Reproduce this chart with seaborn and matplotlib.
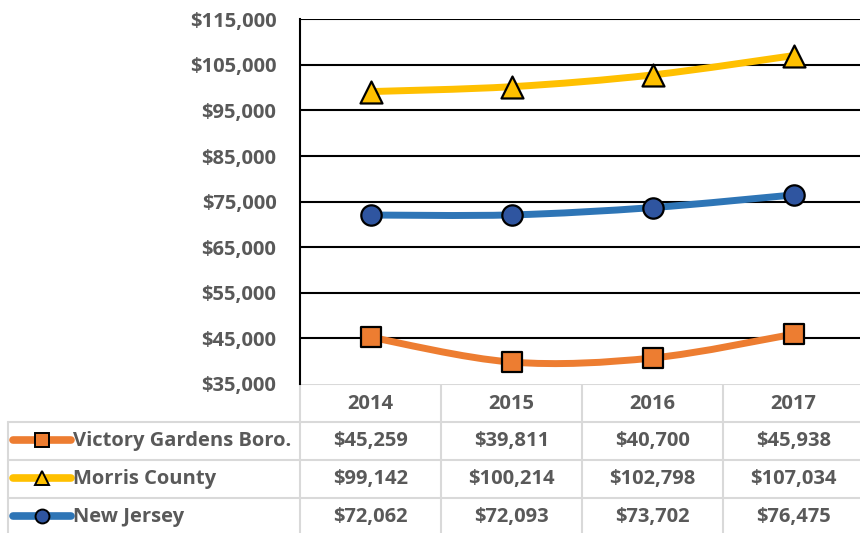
import numpy as np
import pandas as pd
import seaborn as sns
import matplotlib.pyplot as plt
from matplotlib.path import Path
from matplotlib.patches import PathPatch
from matplotlib.lines import Line2D
from matplotlib.ticker import FuncFormatter

years = ["2014", "2015", "2016", "2017"]
victory_gardens = [45259, 39811, 40700, 45938]
morris_county = [99142, 100214, 102798, 107034]
new_jersey = [72062, 72093, 73702, 76475]

series_names = ["Victory Gardens Boro.", "Morris County", "New Jersey"]
y_ticks = [35000, 45000, 55000, 65000, 75000, 85000, 95000, 105000, 115000]

# styling
line_colors = ["#ED7D31", "#FFC000", "#2E75B6"]
marker_fill = ["#ED7D31", "#FFC000", "#2F55A0"]
markers = ["s", "^", "o"]
marker_sizes = [205, 250, 215]
text_gray = "#595959"
grid_gray = "#D9D9D9"
fsize = 14.5
W, H = 860, 533

sns.set_theme(style="white")
plt.rcParams["font.family"] = ["Open Sans", "DejaVu Sans"]
plt.rcParams["font.weight"] = "bold"

rows = []
for name, vals in zip(series_names, [victory_gardens, morris_county, new_jersey]):
    for i, (yr, v) in enumerate(zip(years, vals)):
        rows.append({"series": name, "year": yr, "x": i, "value": v})
df = pd.DataFrame(rows)


def smooth_path(xs, ys):
    # excel-style smoothed line: bezier segments through every point
    pts = np.column_stack([xs, ys]).astype(float)
    ext = np.vstack([pts[0], pts, pts[-1]])
    verts = [tuple(pts[0])]
    codes = [Path.MOVETO]
    for i in range(len(pts) - 1):
        p0, p1, p2, p3 = ext[i], ext[i + 1], ext[i + 2], ext[i + 3]
        c1 = p1 + (p2 - p0) / 6.0
        c2 = p2 - (p3 - p1) / 6.0
        verts += [tuple(c1), tuple(c2), tuple(p2)]
        codes += [Path.CURVE4] * 3
    return Path(verts, codes)


fig = plt.figure(figsize=(W / 100, H / 100), dpi=100)
top_px, bot_px, left_px, right_px = 19.3, 384, 300, 864
ax = fig.add_axes([left_px / W, 1 - bot_px / H,
                   (right_px - left_px) / W, (bot_px - top_px) / H])

for k, name in enumerate(series_names):
    sub = df[df["series"] == name]
    ax.add_patch(PathPatch(smooth_path(sub["x"], sub["value"]), fill=False,
                           edgecolor=line_colors[k], lw=5,
                           capstyle="round", zorder=3))
    sns.scatterplot(data=sub, x="x", y="value", marker=markers[k],
                    s=marker_sizes[k], color=marker_fill[k],
                    edgecolor="black", linewidth=1.6, zorder=4, ax=ax,
                    legend=False)

ax.set_xlim(-0.5, 3.5)
ax.set_ylim(35000, 115000)
ax.set_yticks(y_ticks)
ax.yaxis.set_major_formatter(FuncFormatter(lambda v, p: f"${v:,.0f}"))
ax.set_xticks([])
ax.set_xlabel("")
ax.set_ylabel("")
ax.tick_params(axis="y", length=0, pad=17, labelsize=fsize, labelcolor=text_gray)
for t in ax.get_yticklabels():
    t.set_fontweight("bold")
for yv in y_ticks[1:]:
    ax.axhline(yv, color="black", lw=1.5, zorder=1)
for s in ["top", "right", "bottom"]:
    ax.spines[s].set_visible(False)
ax.spines["left"].set_color("black")
ax.spines["left"].set_linewidth(1.5)

# data table underneath, drawn in pixel coordinates
tab = fig.add_axes([0, 0, 1, 1], zorder=-1)
tab.set_xlim(0, W)
tab.set_ylim(H, 0)
tab.axis("off")

col_edges = [300, 441, 582, 723, 864]
row_lines = [384, 422, 460, 498]
row_mid = [404, 441, 479, 517]
tab.plot([300, W], [384, 384], color=grid_gray, lw=1.5)
for yl in row_lines[1:]:
    tab.plot([8, W], [yl, yl], color=grid_gray, lw=1.5)
tab.plot([8, 8], [422, H], color=grid_gray, lw=1.5)
for xc in col_edges[:-1]:
    tab.plot([xc, xc], [384, H], color=grid_gray, lw=1.5)

for j, yr in enumerate(years):
    xm = (col_edges[j] + col_edges[j + 1]) / 2
    tab.text(xm, row_mid[0], yr, ha="center", va="center",
             fontsize=fsize, fontweight="bold", color=text_gray)

for k, (name, vals) in enumerate(zip(series_names,
                                     [victory_gardens, morris_county, new_jersey])):
    ym = row_mid[k + 1] - 1
    tab.add_line(Line2D([13, 71], [ym, ym], color=line_colors[k], lw=5.5,
                        solid_capstyle="round"))
    ms = {"s": 9.5, "^": 9.5, "o": 10}[markers[k]]
    tab.add_line(Line2D([42], [ym], marker=markers[k], markersize=ms,
                        markerfacecolor=marker_fill[k], markeredgecolor="black",
                        markeredgewidth=1.4, linestyle="none"))
    tab.text(73, row_mid[k + 1], name, ha="left", va="center", fontsize=fsize,
             fontweight="bold", color=text_gray)
    for j, v in enumerate(vals):
        xm = (col_edges[j] + col_edges[j + 1]) / 2
        tab.text(xm, row_mid[k + 1], f"${v:,.0f}", ha="center", va="center",
                 fontsize=fsize, fontweight="bold", color=text_gray)

fig.savefig("out.png", dpi=100)
